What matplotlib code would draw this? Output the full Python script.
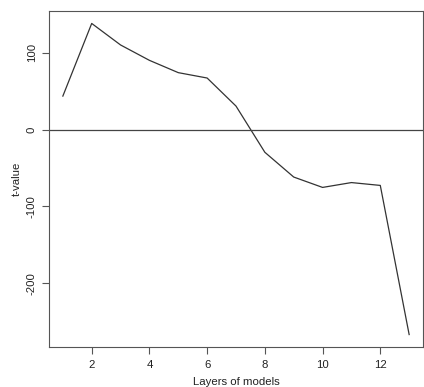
import matplotlib
matplotlib.use("Agg")
import matplotlib.pyplot as plt

layers = [1, 2, 3, 4, 5, 6, 7, 8, 9, 10, 11, 12, 13]
t_values = [43.5, 138, 110, 90, 74, 67, 30.5, -29.6, -61.8, -75.3, -69, -72.7, -266.7]
x_ticks = [2, 4, 6, 8, 10, 12]
y_ticks = [-200, -100, 0, 100]

plt.rcParams['font.family'] = ['Liberation Sans', 'DejaVu Sans']

W, H = 424, 387
fig = plt.figure(figsize=(W / 100, H / 100), dpi=100)
fig.patch.set_facecolor('white')

ax = fig.add_axes([49 / W, (387 - 347) / H, (423 - 49) / W, (347 - 11) / H])

ax.plot(layers, t_values, color='#333333', lw=0.9)
ax.axhline(0, color='#444444', lw=0.9)

xr = max(layers) - min(layers)
ax.set_xlim(min(layers) - 0.04 * xr, max(layers) + 0.04 * xr)
yr = max(t_values) - min(t_values)
ax.set_ylim(min(t_values) - 0.04 * yr, max(t_values) + 0.04 * yr)

ax.set_xticks(x_ticks)
ax.set_yticks(y_ticks)
ax.set_yticklabels([str(v) for v in y_ticks], rotation=90, va='center')
ax.tick_params(direction='out', length=4.8, width=0.8, color='#555555', labelsize=8.2,
               labelcolor='#222222')
ax.tick_params(axis='x', pad=4.5)
ax.tick_params(axis='y', pad=4)

for s in ax.spines.values():
    s.set_linewidth(0.8)
    s.set_color('#555555')

ax.set_xlabel("Layers of models", fontsize=8.2, color='#222222', labelpad=5)
ax.set_ylabel("t-value", fontsize=8.2, color='#222222', labelpad=3.5)

fig.savefig("out.png", dpi=100)
